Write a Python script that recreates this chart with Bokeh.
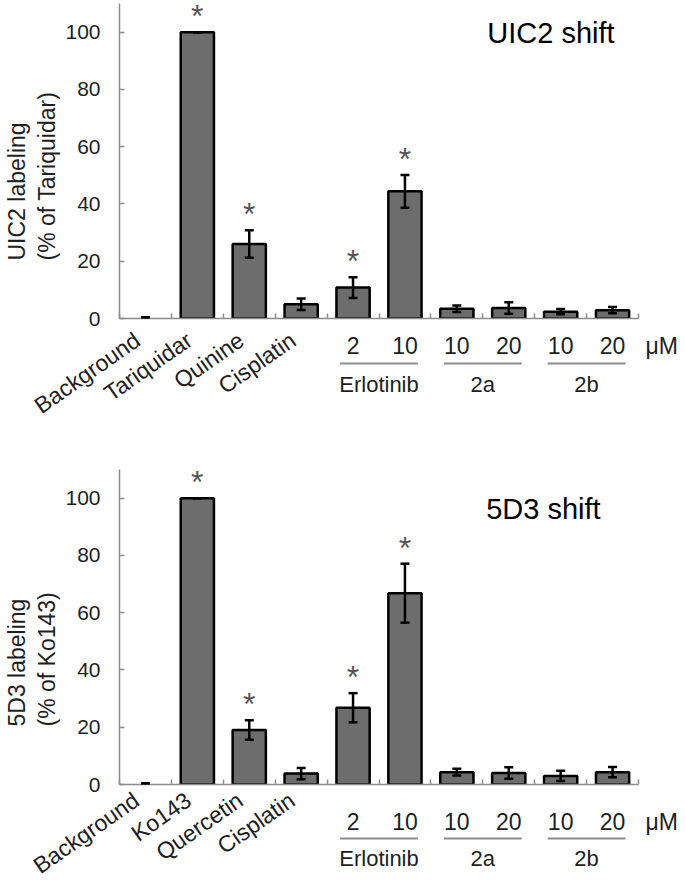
import math
from bokeh.plotting import figure
from bokeh.models import (ColumnDataSource, Range1d, FixedTicker, Whisker, TeeHead,
                          CDSView, BooleanFilter)
from bokeh.core.properties import value
from bokeh.layouts import column
from bokeh.embed import file_html
from bokeh.resources import INLINE

# ---------------- data ----------------
rot_labels_top = ["Background", "Tariquidar", "Quinine", "Cisplatin"]
rot_labels_bot = ["Background", "Ko143", "Quercetin", "Cisplatin"]
conc_labels = ["2", "10", "10", "20", "10", "20"]
group_names = ["Erlotinib", "2a", "2b"]
group_members = [[4, 5], [6, 7], [8, 9]]
unit_label = "μM"

uic2_values = [0.0, 100, 26.0, 5.0, 10.8, 44.4, 3.4, 3.7, 2.4, 2.9]
uic2_errors = [0.4, 0.0, 4.8, 2.0, 3.6, 5.7, 1.1, 2.0, 0.9, 1.1]
uic2_sig = [False, True, True, False, True, True, False, False, False, False]
uic2_ylabel = ["UIC2 labeling", "(% of Tariquidar)"]

d53_values = [0.0, 100, 19.0, 3.8, 26.8, 66.8, 4.3, 4.0, 3.0, 4.3]
d53_errors = [0.4, 0.0, 3.4, 2.0, 5.1, 10.3, 1.2, 2.0, 1.8, 1.8]
d53_sig = [False, True, True, False, True, True, False, False, False, False]
d53_ylabel = ["5D3 labeling", "(% of Ko143)"]

FONT = "Liberation Sans"
AXIS_GRAY = "#8c8c8c"
TEXT = "#1e1e1e"


def add_text(p, xs, ys, texts, dy=0, dx=0, size="22px", color=TEXT, align="center",
             baseline="middle", angle=0.0):
    dxs = dx if isinstance(dx, list) else [dx] * len(xs)
    src = ColumnDataSource(dict(x=xs, y=ys, t=texts, dx=dxs))
    p.text(x="x", y="y", text="t", source=src, x_offset="dx", y_offset=dy,
           angle=math.radians(angle), text_align=align, text_baseline=baseline,
           text_font=value(FONT), text_font_size=size, text_color=color,
           level="overlay")


def make_panel(rot_labels, values, errors, sig, ylabel, title, title_xy, y_end,
               border_left, border_top, frame_h, fig_h,
               conc_dy, line_dy, group_dy, rot_dy, rot_dx, ylab_dx, ylab_dy):
    n = len(values)
    xs = [i + 0.5 for i in range(n)]
    W = 685
    frame_w = 521
    p = figure(width=W, height=fig_h, x_range=Range1d(0, n), y_range=Range1d(0, y_end),
               output_backend="svg", toolbar_location=None,
               min_border_left=border_left, min_border_right=W - border_left - frame_w,
               min_border_top=border_top, min_border_bottom=fig_h - border_top - frame_h)
    p.outline_line_color = None
    p.xgrid.visible = False
    p.ygrid.visible = False

    # y axis
    yax = p.yaxis[0]
    yax.ticker = FixedTicker(ticks=[0, 20, 40, 60, 80, 100])
    yax.axis_line_color = AXIS_GRAY
    yax.axis_line_width = 1.5
    yax.major_tick_line_color = AXIS_GRAY
    yax.major_tick_line_width = 1.5
    yax.major_tick_in = 5
    yax.major_tick_out = 0
    yax.minor_tick_line_color = None
    yax.major_label_text_font = FONT
    yax.major_label_text_font_size = "21px"
    yax.major_label_text_color = TEXT
    yax.major_label_standoff = 19

    # y axis title: two lines, drawn as rotated texts left of the axis
    add_text(p, [0, 0], [0, 0], ylabel, dx=ylab_dx, dy=-ylab_dy, size="23px",
             align="left", angle=90)

    # x axis: ticks at the boundaries between categories
    xax = p.xaxis[0]
    xax.ticker = FixedTicker(ticks=list(range(n + 1)))
    xax.major_label_overrides = {i: "" for i in range(n + 1)}
    xax.axis_line_color = AXIS_GRAY
    xax.axis_line_width = 1.5
    xax.major_tick_line_color = AXIS_GRAY
    xax.major_tick_line_width = 1.5
    xax.major_tick_in = 5
    xax.major_tick_out = 0
    xax.minor_tick_line_color = None

    upper = [v + e for v, e in zip(values, errors)]
    lower = [max(0.0, v - e) for v, e in zip(values, errors)]
    src = ColumnDataSource(dict(x=xs, top=values, upper=upper, lower=lower))
    view = CDSView(filter=BooleanFilter([v > 0 for v in values]))
    p.vbar(x="x", top="top", width=0.64, source=src, view=view,
           fill_color="#6d6d6d", line_color="black", line_width=2.5)

    wh = Whisker(source=src, base="x", upper="upper", lower="lower",
                 line_color="black", line_width=2.5, level="annotation",
                 upper_head=TeeHead(size=9, line_color="black", line_width=2.5),
                 lower_head=TeeHead(size=9, line_color="black", line_width=2.5))
    p.add_layout(wh)

    # significance stars
    sx = [x for x, s in zip(xs, sig) if s]
    sy = [u for u, s in zip(upper, sig) if s]
    add_text(p, sx, sy, ["*"] * len(sx), dy=-16, size="32px", color="#555555")

    # rotated category labels
    nr = len(rot_labels)
    add_text(p, xs[:nr], [0] * nr, rot_labels, dy=rot_dy, dx=rot_dx, size="23px",
             angle=35, align="right")

    # concentration labels and unit
    add_text(p, xs[nr:], [0] * len(conc_labels), conc_labels, dy=conc_dy, size="23px")
    add_text(p, [n], [0], [unit_label], dy=conc_dy, dx=7, size="23px", align="left")

    # group underlines and names
    px_per_unit = frame_h / y_end
    gx = [sum(xs[i] for i in m) / len(m) for m in group_members]
    x0 = [xs[m[0]] - 0.25 for m in group_members]
    x1 = [xs[m[-1]] + 0.25 for m in group_members]
    yl = [-line_dy / px_per_unit] * len(group_members)
    p.segment(x0=x0, y0=yl, x1=x1, y1=yl, line_color="#8c8c8c", line_width=2, level="overlay")
    add_text(p, gx, [0] * len(gx), group_names, dy=group_dy, size="22px")

    # panel title
    add_text(p, [title_xy[0]], [title_xy[1]], [title], size="29px", color="black",
             align="right")
    return p


p1 = make_panel(rot_labels_top, uic2_values, uic2_errors, uic2_sig,
                uic2_ylabel, "UIC2 shift", (9.54, 99.6), 110,
                border_left=119, border_top=3, frame_h=315, fig_h=440,
                conc_dy=27, line_dy=45, group_dy=66, rot_dy=19, rot_dx=-8,
                ylab_dx=[-103, -73], ylab_dy=58)
p2 = make_panel(rot_labels_bot, d53_values, d53_errors, d53_sig,
                d53_ylabel, "5D3 shift", (9.27, 96.3), 110,
                border_left=117, border_top=29, frame_h=315, fig_h=440,
                conc_dy=37, line_dy=54, group_dy=74, rot_dy=13, rot_dx=-9,
                ylab_dx=[-103, -73], ylab_dy=58)

layout = column(p1, p2, spacing=0)
open("out.html", "w").write(file_html(layout, INLINE))
